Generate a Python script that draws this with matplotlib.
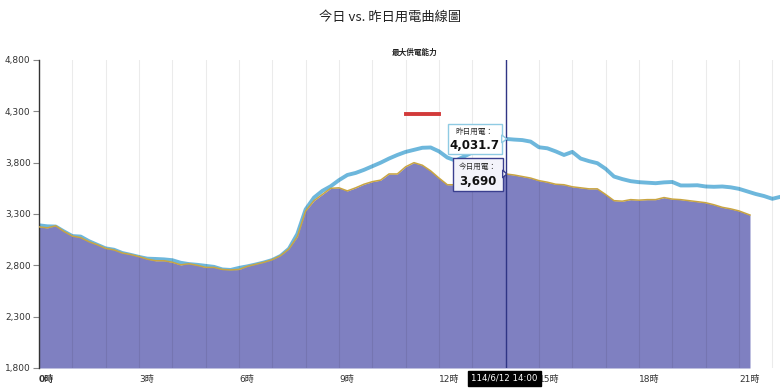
import matplotlib.pyplot as plt
from matplotlib.patches import Rectangle, Polygon
from matplotlib.transforms import IdentityTransform, blended_transform_factory

plt.rcParams['font.family'] = ['Noto Sans CJK TC', 'DejaVu Sans']

# today's load (hours, MW-ish units as on the chart)
today_hours = [0, 0.25, 0.5, 0.75, 1.0, 1.25, 1.5, 1.75, 2.0, 2.25, 2.5, 2.75,
               3.0, 3.25, 3.5, 3.75, 4.0, 4.25, 4.5, 4.75, 5.0, 5.25, 5.5, 5.75,
               6.0, 6.25, 6.5, 6.75, 7.0, 7.25, 7.5, 7.75, 8.0, 8.25, 8.5, 8.75,
               9.0, 9.25, 9.5, 9.75, 10.0, 10.25, 10.5, 10.75, 11.0, 11.25, 11.5, 11.75,
               12.0, 12.25, 12.5, 12.75, 13.0, 13.25, 13.5, 13.75, 14.0, 14.25, 14.5, 14.75,
               15.0, 15.25, 15.5, 15.75, 16.0, 16.25, 16.5, 16.75, 17.0, 17.25, 17.5, 17.75,
               18.0, 18.25, 18.5, 18.75, 19.0, 19.25, 19.5, 19.75, 20.0, 20.25, 20.5, 20.75,
               21.0, 21.33]
today_load = [3175, 3165, 3185, 3130, 3085, 3070, 3030, 3000, 2965, 2950, 2920, 2905,
              2885, 2860, 2845, 2845, 2830, 2805, 2815, 2800, 2780, 2780, 2760, 2755,
              2760, 2790, 2810, 2830, 2855, 2895, 2960, 3080, 3330, 3430, 3490, 3550,
              3555, 3525, 3555, 3590, 3615, 3630, 3690, 3690, 3760, 3800, 3775, 3720,
              3650, 3585, 3585, 3600, 3620, 3640, 3665, 3680, 3690, 3680, 3665, 3650,
              3625, 3610, 3590, 3585, 3565, 3555, 3545, 3545, 3490, 3430, 3425, 3440,
              3435, 3440, 3440, 3460, 3445, 3440, 3430, 3420, 3410, 3390, 3365, 3350,
              3330, 3290]

yesterday_hours = [0, 0.25, 0.5, 0.75, 1.0, 1.25, 1.5, 1.75, 2.0, 2.25, 2.5, 2.75,
                   3.0, 3.25, 3.5, 3.75, 4.0, 4.25, 4.5, 4.75, 5.0, 5.25, 5.5, 5.75,
                   6.0, 6.25, 6.5, 6.75, 7.0, 7.25, 7.5, 7.75, 8.0, 8.25, 8.5, 8.75,
                   9.0, 9.25, 9.5, 9.75, 10.0, 10.25, 10.5, 10.75, 11.0, 11.25, 11.5, 11.75,
                   12.0, 12.25, 12.5, 12.75, 13.0, 13.25, 13.5, 13.75, 14.0, 14.25, 14.5, 14.75,
                   15.0, 15.25, 15.5, 15.75, 16.0, 16.25, 16.5, 16.75, 17.0, 17.25, 17.5, 17.75,
                   18.0, 18.25, 18.5, 18.75, 19.0, 19.25, 19.5, 19.75, 20.0, 20.25, 20.5, 20.75,
                   21.0, 21.25, 21.5, 21.75, 22.0, 22.25]
yesterday_load = [3190, 3180, 3178, 3130, 3085, 3080, 3035, 3000, 2965, 2952, 2920, 2902,
                  2882, 2865, 2862, 2858, 2850, 2825, 2812, 2805, 2795, 2785, 2760, 2755,
                  2775, 2790, 2808, 2828, 2852, 2892, 2962, 3105, 3345, 3460, 3525, 3570,
                  3630, 3680, 3700, 3730, 3765, 3800, 3840, 3875, 3905, 3925, 3945, 3948,
                  3910, 3850, 3820, 3860, 3900, 3940, 3980, 4010, 4031.7, 4025, 4020, 4005,
                  3950, 3940, 3910, 3875, 3905, 3840, 3815, 3795, 3740, 3665, 3640, 3620,
                  3610, 3605, 3600, 3608, 3612, 3578, 3578, 3580, 3568, 3565, 3568, 3560,
                  3545, 3520, 3495, 3475, 3448, 3468]

max_supply = 4273
max_supply_hours = [11.0, 12.0]

hour_ticks = [0, 3, 6, 9, 12, 15, 18, 21]
hour_labels = ['0時', '3時', '6時', '9時', '12時', '15時', '18時', '21時']
y_ticks = [1800, 2300, 2800, 3300, 3800, 4300, 4800]

hover_hour = 14.0
hover_today = 3690
hover_yesterday = 4031.7
hover_stamp = '114/6/12 14:00'

fig = plt.figure(figsize=(7.8, 3.91), dpi=100)
ax = fig.add_axes([39 / 780, 1 - 368 / 391, 1 - 39 / 780, 308 / 391])
ax.set_xlim(0, 741 / 33.333)
ax.set_ylim(1800, 4800)

# yesterday line sits behind today's area, only peeks out where it is higher
ax.plot(yesterday_hours, yesterday_load, color='#6db7dc', lw=2.8, zorder=1.9,
        solid_joinstyle='round', solid_capstyle='round')

# today area
ax.fill_between(today_hours, 1800, today_load, color='#7f80c1', lw=0, zorder=2)
ax.plot(today_hours, today_load, color='#c9a542', lw=1.1, zorder=3)

# hourly grid on top of the area
for h in range(0, 23):
    ax.axvline(h, color='#000000', alpha=0.08, lw=0.8, zorder=2.5)

# max supply marker
ax.plot(max_supply_hours, [max_supply, max_supply], color='#d23a3a', lw=2.8, zorder=4)

# crosshair
ax.axvline(hover_hour, color='#2f3585', lw=1, zorder=5)

for s in ['top', 'right', 'bottom']:
    ax.spines[s].set_visible(False)
ax.spines['left'].set_color('#333333')
ax.spines['left'].set_linewidth(1)

ax.set_yticks(y_ticks)
ax.set_yticklabels([f'{v:,}' for v in y_ticks], family=['DejaVu Sans', 'Noto Sans CJK TC'])
ax.set_xticks(hour_ticks)
ax.set_xticklabels(hour_labels, family=['DejaVu Sans', 'Noto Sans CJK TC'])
ax.tick_params(axis='y', length=4, color='#888888', labelsize=6.5, labelcolor='#333333', pad=2)
ax.tick_params(axis='x', length=0, labelsize=6.5, labelcolor='#333333', pad=5)
for lbl in ax.get_xticklabels():
    lbl.set_ha('left')
ax.get_xticklabels()[0].set_fontweight('bold')

# tooltips
ident = IdentityTransform()
py = ax.transData.transform((hover_hour, hover_yesterday))
bx, by, bw, bh = py[0] - 58, py[1] - 15, 54, 30
ax.add_patch(Rectangle((bx, by), bw, bh, transform=ident, fc='white', ec='#8fcbe3',
                       lw=1, zorder=8, clip_on=False))
ax.add_patch(Polygon([(bx + bw, py[1] - 4), (bx + bw, py[1] + 4), (py[0] + 1, py[1])],
                     closed=True, transform=ident, fc='white', ec='#8fcbe3', lw=1,
                     zorder=8, clip_on=False))
ax.text(bx + bw / 2, by + bh - 8, '昨日用電：', transform=ident, ha='center', va='center',
        fontsize=5.5, color='#333333', zorder=9)
ax.text(bx + bw / 2, by + 8, f'{hover_yesterday:,.1f}', transform=ident, ha='center',
        va='center', fontsize=8.5, fontweight='bold', color='#111111', zorder=9,
        family=['DejaVu Sans'])

pt = ax.transData.transform((hover_hour, hover_today))
bx, by, bw, bh = pt[0] - 53, pt[1] - 17, 50, 33
ax.add_patch(Rectangle((bx, by), bw, bh, transform=ident, fc='#f3f3fa', ec='#3a3f8f',
                       lw=1, zorder=8, clip_on=False))
ax.add_patch(Polygon([(bx + bw, pt[1] - 4), (bx + bw, pt[1] + 4), (pt[0] + 1, pt[1])],
                     closed=True, transform=ident, fc='#f3f3fa', ec='#3a3f8f', lw=1,
                     zorder=8, clip_on=False))
ax.text(bx + bw / 2, by + bh - 9, '今日用電：', transform=ident, ha='center', va='center',
        fontsize=5.5, color='#333333', zorder=9)
ax.text(bx + bw / 2, by + 9, f'{hover_today:,}', transform=ident, ha='center',
        va='center', fontsize=8.5, fontweight='bold', color='#111111', zorder=9,
        family=['DejaVu Sans'])

# time stamp on the x axis
trans = blended_transform_factory(ax.transData, ax.transAxes)
ax.text(hover_hour - 0.04, -0.034, hover_stamp, transform=trans, ha='center', va='center',
        fontsize=6.2, color='white', family=['DejaVu Sans'], zorder=9,
        bbox=dict(boxstyle='square,pad=0.38', fc='black', ec='black'))

fig.text(0.5, 1 - 17 / 391, '今日 vs. 昨日用電曲線圖', ha='center', va='center',
         fontsize=9.5, color='#222222')
fig.text(415 / 780, 1 - 52 / 391, '最大供電能力', ha='center', va='center',
         fontsize=5.5, fontweight='bold', color='#222222')

fig.savefig('out.png', dpi=100)
